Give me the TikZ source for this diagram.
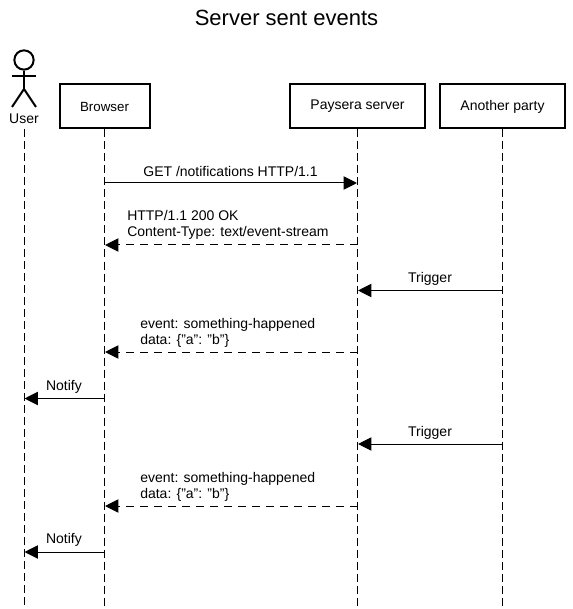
\documentclass[tikz,border=0pt]{standalone}
\usepackage{fontspec}
\setmainfont{Liberation Sans}
\usetikzlibrary{arrows.meta}
\tikzset{
  party/.style={draw,line width=1.5pt,minimum height=33pt,inner sep=0pt},
  lifeline/.style={line width=0.75pt,dash pattern=on 6pt off 3pt},
  call/.style={line width=0.75pt,-{Triangle[length=10pt,width=10pt]},shorten >=0.4pt},
  reply/.style={call,dash pattern=on 6pt off 4.5pt},
  msg/.style={inner sep=0pt,font=\fontsize{10.5}{12}\selectfont,align=left},
}
\begin{document}
\begin{tikzpicture}[x=0.75pt,y=-0.75pt]
    \useasboundingbox (0,0) rectangle (572,609);
    \node[inner sep=0pt,font=\fontsize{16.5}{20}\selectfont] (title) at (286.5,18) {Server sent events};
    % actor
    \node[draw,circle,line width=1.5pt,minimum size=14.5pt,inner sep=0pt] (head) at (24,60) {};
    \coordinate (hip) at (24,89);
    \coordinate (armL) at (12,76);
    \coordinate (armR) at (36,76);
    \coordinate (neck) at (24,76);
    \coordinate (footL) at (12,107);
    \coordinate (footR) at (36,107);
    \draw[line width=1.5pt] (head) -- (hip);
    \draw[line width=1.5pt] (armL) -- (armR);
    \draw[line width=1.5pt] (footL) -- (hip) -- (footR);
    \node[msg] (user) at (24,119) {User};
    % parties
    \node[party,minimum width=67.5pt] (browser) at (104.5,106.5) {Browser};
    \node[party,minimum width=101.5pt,msg,draw,line width=1.5pt,minimum height=33pt] (server) at (357.5,106.5) {Paysera server};
    \node[party,minimum width=94pt,msg,draw,line width=1.5pt,minimum height=33pt] (other) at (502.5,106.5) {Another party};
    % lifelines
    \coordinate (userTop) at (24,129);
    \coordinate (userEnd) at (24,609);
    \coordinate (browserEnd) at (104.5,609);
    \coordinate (serverEnd) at (357.5,609);
    \coordinate (otherEnd) at (502.5,609);
    \draw[lifeline] (userTop) -- (userEnd);
    \draw[lifeline] (browser) -- (browserEnd);
    \draw[lifeline] (server) -- (serverEnd);
    \draw[lifeline] (other) -- (otherEnd);
    % message ends
    \coordinate (b1) at (104.5,183);
    \coordinate (s1) at (357.5,183);
    \coordinate (b2) at (104.5,245);
    \coordinate (s2) at (357.5,245);
    \coordinate (s3) at (357.5,290.5);
    \coordinate (o3) at (502.5,290.5);
    \coordinate (b4) at (104.5,352);
    \coordinate (s4) at (357.5,352);
    \coordinate (u5) at (24,398.5);
    \coordinate (b5) at (104.5,398.5);
    \coordinate (s6) at (357.5,444);
    \coordinate (o6) at (502.5,444);
    \coordinate (b7) at (104.5,506);
    \coordinate (s7) at (357.5,506);
    \coordinate (u8) at (24,552);
    \coordinate (b8) at (104.5,552);
    % messages
    \draw[call] (b1) -- (s1);
    \draw[reply] (s2) -- (b2);
    \draw[call] (o3) -- (s3);
    \draw[reply] (s4) -- (b4);
    \draw[call] (b5) -- (u5);
    \draw[call] (o6) -- (s6);
    \draw[reply] (s7) -- (b7);
    \draw[call] (b8) -- (u8);
    \node[msg] (get) at (230.5,171) {GET /notifications HTTP/1.1};
    \node[msg,anchor=west] (ok) at (127,225) {HTTP/1.1 200 OK\\Content-Type: text/event-stream};
    \node[msg] (trig1) at (430,279) {Trigger};
    \node[msg,anchor=west] (ev1) at (140,333) {event: something-happened\\data: \{"a": "b"\}};
    \node[msg] (note1) at (64,387) {Notify};
    \node[msg] (trig2) at (430,433) {Trigger};
    \node[msg,anchor=west] (ev2) at (140,487) {event: something-happened\\data: \{"a": "b"\}};
    \node[msg] (note2) at (64,540) {Notify};
\end{tikzpicture}
\end{document}
